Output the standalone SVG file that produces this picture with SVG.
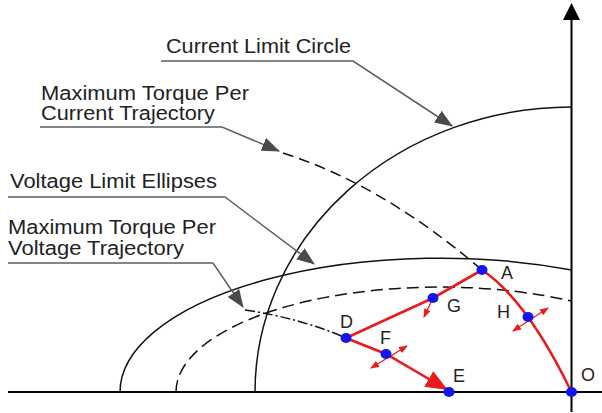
<svg xmlns="http://www.w3.org/2000/svg" width="602" height="413" viewBox="0 0 602 413">
<style>
.lbl{font-family:"Liberation Sans",Arial,sans-serif;font-size:20px;fill:#222}
.pt{font-family:"Liberation Sans",Arial,sans-serif;font-size:18px;fill:#222}
.leader{fill:none;stroke:#5e5e5e;stroke-width:1.5;marker-end:url(#lead)}
.curve{fill:none;stroke:#111;stroke-width:1.5}
.axis{fill:none;stroke:#000;stroke-width:2}
.red{fill:none;stroke:#e81c1c;stroke-width:2.6}
.small{fill:none;stroke:#e81c1c;stroke-width:1.3}
.dot{fill:#1414ee}
</style>
<defs>
<marker id="lead" markerUnits="userSpaceOnUse" markerWidth="18" markerHeight="14" refX="17" refY="7" orient="auto"><path d="M0,0 L18,7 L0,14 z" fill="#4a4a4a"/></marker>
<marker id="bigred" markerUnits="userSpaceOnUse" markerWidth="22" markerHeight="18" refX="20" refY="9" orient="auto"><path d="M0,0 L22,9 L0,18 z" fill="#e81c1c"/></marker>
<marker id="sred" markerUnits="userSpaceOnUse" markerWidth="9" markerHeight="7" refX="8" refY="3.5" orient="auto-start-reverse"><path d="M0,0 L9,3.5 L0,7 z" fill="#e81c1c"/></marker>
</defs>

<g id="axes">
<line class="axis" x1="8" y1="392" x2="602" y2="392"/>
<line class="axis" x1="571.5" y1="18" x2="571.5" y2="412"/>
<polygon points="563,20 571.5,3 580,20" fill="#000"/>
</g>

<g id="current-limit-circle">
<path class="curve" d="M255,392 A317,285 0 0 1 571.5,107"/>
</g>
<g id="voltage-limit-ellipse-outer">
<path class="curve" d="M120,392 A320,134 0 0 1 571.5,270"/>
</g>
<g id="voltage-limit-ellipse-inner">
<path class="curve" d="M176,392 A264,105 0 0 1 571.5,301" stroke-dasharray="12 6"/>
</g>
<g id="mtpa-trajectory">
<path class="curve" d="M283,153 Q383,185 482,270" stroke-dasharray="11 6"/>
</g>
<g id="mtpv-trajectory">
<path class="curve" d="M245,310 Q300,318 346,338" stroke-dasharray="10 3 2 3"/>
</g>

<g id="label-current-limit">
<text class="lbl" x="166" y="53" textLength="185" lengthAdjust="spacingAndGlyphs">Current Limit Circle</text>
</g>
<g id="label-mtpa">
<text class="lbl" x="41" y="100" textLength="208" lengthAdjust="spacingAndGlyphs">Maximum Torque Per</text>
<text class="lbl" x="41" y="120" textLength="174" lengthAdjust="spacingAndGlyphs">Current Trajectory</text>
</g>
<g id="label-voltage-limit">
<text class="lbl" x="10" y="188" textLength="207" lengthAdjust="spacingAndGlyphs">Voltage Limit Ellipses</text>
</g>
<g id="label-mtpv">
<text class="lbl" x="8" y="234" textLength="208" lengthAdjust="spacingAndGlyphs">Maximum Torque Per</text>
<text class="lbl" x="8" y="255" textLength="176" lengthAdjust="spacingAndGlyphs">Voltage Trajectory</text>
</g>

<g id="connectors">
<path class="leader" d="M161,61 H353 L452,126"/>
<path class="leader" d="M40,127 H222 L279,151"/>
<path class="leader" d="M8,197 H225 L314,264"/>
<path class="leader" d="M8,263 H213 L243,307"/>
<path class="red" d="M482,270 L433,298 L346,338"/>
<path class="red" d="M346,338 L386,354 L446,389" marker-end="url(#bigred)"/>
<path class="red" d="M482,270 Q527,300 571.5,392"/>
<path class="small" d="M433,298 L424,317" marker-end="url(#sred)"/>
<path class="small" d="M513,331 L548,308" marker-start="url(#sred)" marker-end="url(#sred)"/>
<path class="small" d="M371,368 L407,346" marker-start="url(#sred)" marker-end="url(#sred)"/>
</g>

<g id="point-A"><ellipse class="dot" cx="482" cy="270" rx="5.5" ry="5"/><text class="pt" x="501" y="279">A</text></g>
<g id="point-G"><ellipse class="dot" cx="433" cy="298" rx="5.5" ry="5"/><text class="pt" x="447" y="312">G</text></g>
<g id="point-H"><ellipse class="dot" cx="528" cy="317" rx="5.5" ry="5"/><text class="pt" x="497" y="318">H</text></g>
<g id="point-D"><ellipse class="dot" cx="346" cy="338" rx="5.5" ry="5"/><text class="pt" x="340" y="328">D</text></g>
<g id="point-F"><ellipse class="dot" cx="386" cy="354" rx="5.5" ry="5"/><text class="pt" x="380" y="344">F</text></g>
<g id="point-E"><ellipse class="dot" cx="449" cy="392" rx="5.5" ry="5"/><text class="pt" x="453" y="382">E</text></g>
<g id="point-O"><ellipse class="dot" cx="571.5" cy="392" rx="5.5" ry="5"/><text class="pt" x="581" y="381">O</text></g>
</svg>
